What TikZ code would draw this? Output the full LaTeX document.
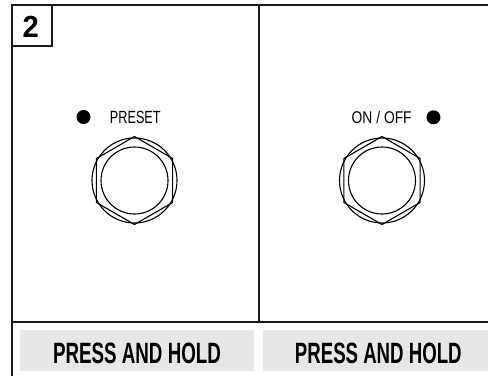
\documentclass[tikz,border=0pt]{standalone}
\usepackage{fontspec}
\usepackage{graphicx}
\setmainfont{Liberation Sans}
\usetikzlibrary{shapes.geometric}
\definecolor{panelgray}{HTML}{E6E7E8}
\definecolor{linecol}{HTML}{1A1A1A}
\newcommand{\fitbox}[3]{\resizebox{#1pt}{#2pt}{#3}}
\tikzset{
  frameline/.style={draw=linecol, line width=1.7pt},
  hexnut/.style={regular polygon, regular polygon sides=6, shape border rotate=30,
    minimum size=88pt, inner sep=0pt, draw=black, line width=1.1pt},
  outerring/.style={circle, minimum size=85pt, inner sep=0pt, draw=black, line width=1.1pt},
  innerring/.style={circle, minimum size=67pt, inner sep=0pt, draw=black, line width=1.1pt},
  leddot/.style={circle, fill=black, minimum size=14pt, inner sep=0pt},
  smalllabel/.style={inner sep=0pt, anchor=center},
  graybar/.style={fill=panelgray, draw=none},
  barlabel/.style={inner sep=0pt, text=black, anchor=center}
}
\begin{document}
\begin{tikzpicture}[x=1pt,y=-1pt]
\useasboundingbox (0,0) rectangle (488,376);
\fill[white] (0,0) rectangle (488,376);
% frame coordinates
\coordinate (tl) at (12,5);
\coordinate (tr) at (488,5);
\coordinate (bl) at (12,376);
\coordinate (ml) at (12,322);
\coordinate (mr) at (488,322);
\coordinate (dt) at (259,5);
\coordinate (db) at (259,322);
% gray bars
\fill[graybar] (20,330) rectangle (254,371);
\fill[graybar] (263,330) rectangle (488,371);
\node[barlabel] (holdL) at (137,353) {\fitbox{168}{20.5}{\bfseries PRESS AND HOLD}};
\node[barlabel] (holdR) at (378.3,353) {\fitbox{166.7}{20.5}{\bfseries PRESS AND HOLD}};
% frame
\draw[frameline] (tr) -- (tl) -- (bl);
\draw[frameline] (ml) -- (mr);
\draw[frameline] (dt) -- (db);
% number box
\draw[draw=linecol, line width=1.7pt] (12,5) rectangle (52,46);
\node[inner sep=0pt] (num) at (30.8,26.7) {\fitbox{16.3}{21.3}{\bfseries 2}};
% left switch
\node[hexnut] (hexL) at (134.5,180.5) {};
\node[outerring] (ringL) at (134.5,180.5) {};
\node[innerring] (capL) at (134.5,180.5) {};
\node[leddot] (ledL) at (83.5,117) {};
\node[smalllabel] (presetL) at (135.3,117.9) {\fitbox{50.7}{12.3}{PRESET}};
% right switch
\node[hexnut] (hexR) at (382,180.5) {};
\node[outerring] (ringR) at (382,180.5) {};
\node[innerring] (capR) at (382,180.5) {};
\node[leddot] (ledR) at (433.5,117.3) {};
\node[smalllabel] (onoffR) at (381.7,117.4) {\fitbox{60}{12.3}{ON / OFF}};
\end{tikzpicture}
\end{document}
